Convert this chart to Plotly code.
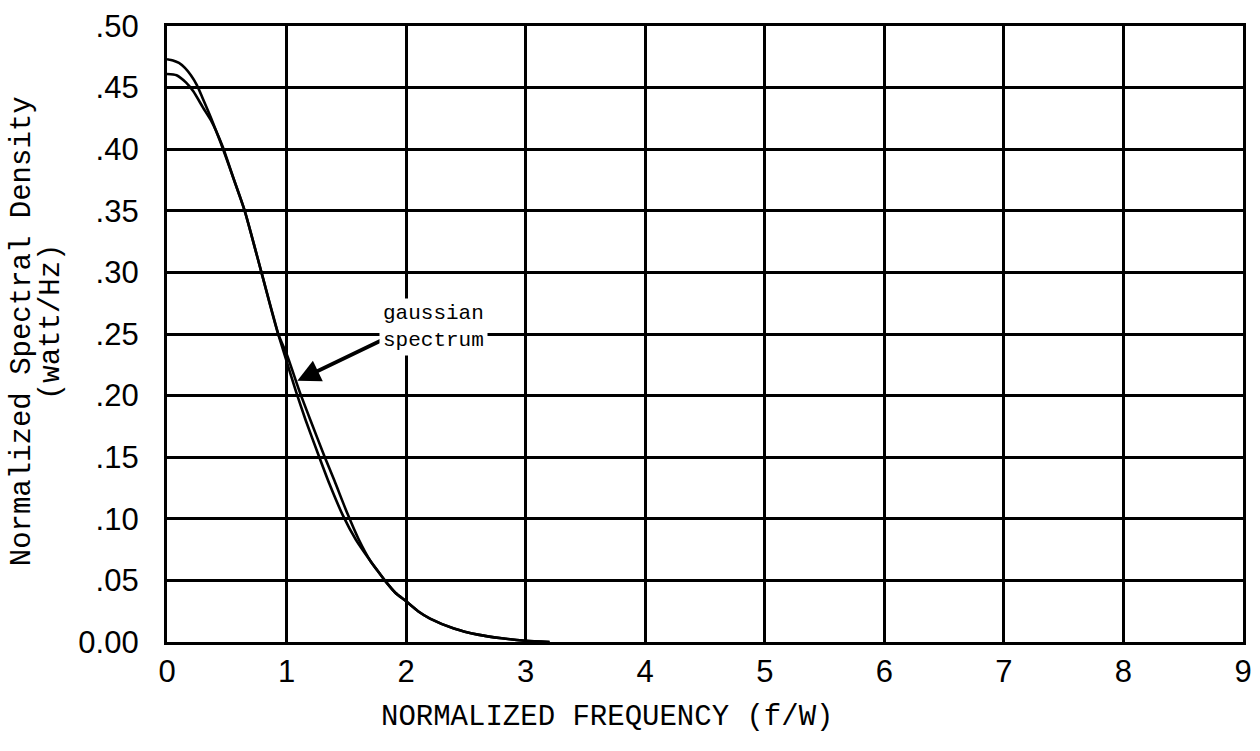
import plotly.graph_objects as go

# Normalized frequency (f/W) and spectral density (watt/Hz) for the two traced spectra
freq_a = [0.00, 0.05, 0.10, 0.15, 0.20, 0.25, 0.30, 0.37, 0.45, 0.55, 0.65, 0.79,
          0.93, 1.00, 1.08, 1.16, 1.27, 1.36, 1.47, 1.58, 1.70, 1.76, 1.83, 1.91,
          2.00, 2.10, 2.20, 2.40, 2.60, 2.80, 3.00, 3.20]
dens_a = [0.473, 0.472, 0.470, 0.466, 0.460, 0.452, 0.441, 0.425, 0.405, 0.378, 0.350, 0.300,
          0.250, 0.228, 0.203, 0.180, 0.151, 0.128, 0.103, 0.083, 0.066, 0.058, 0.049, 0.040,
          0.033, 0.025, 0.019, 0.011, 0.006, 0.003, 0.001, 0.000]

freq_b = [0.00, 0.08, 0.16, 0.22, 0.30, 0.37, 0.41, 0.47, 0.55, 0.65, 0.79, 0.93,
          1.00, 1.11, 1.20, 1.32, 1.40, 1.51, 1.60, 1.70, 1.76, 1.83, 1.91,
          2.00, 2.10, 2.20, 2.40, 2.60, 2.80, 3.00, 3.20]
dens_b = [0.461, 0.460, 0.454, 0.447, 0.434, 0.423, 0.415, 0.401, 0.378, 0.350, 0.300, 0.250,
          0.234, 0.203, 0.180, 0.150, 0.131, 0.104, 0.084, 0.066, 0.058, 0.049, 0.040,
          0.033, 0.025, 0.019, 0.011, 0.006, 0.003, 0.001, 0.000]

x_ticks = [0, 1, 2, 3, 4, 5, 6, 7, 8, 9]
y_ticks = [0.00, 0.05, 0.10, 0.15, 0.20, 0.25, 0.30, 0.35, 0.40, 0.45, 0.50]
y_tick_text = ["0.00", ".05", ".10", ".15", ".20", ".25", ".30", ".35", ".40", ".45", ".50"]

MONO = "Liberation Mono, Courier New, monospace"
SANS = "Liberation Sans, Arial, Helvetica, sans-serif"
INK = "#000000"

fig = go.Figure()
for fx, fy in ((freq_a, dens_a), (freq_b, dens_b)):
    fig.add_trace(go.Scatter(
        x=fx, y=fy, mode="lines",
        line=dict(color=INK, width=2.6, shape="spline", smoothing=0.6),
        hoverinfo="skip", showlegend=False,
    ))

axis_common = dict(
    showgrid=True, gridcolor=INK, gridwidth=2.6,
    showline=True, linecolor=INK, linewidth=3.2, mirror=True,
    zeroline=False, ticks="", tickfont=dict(family=SANS, size=31, color=INK),
)

fig.update_xaxes(range=[0, 9], tickvals=x_ticks, ticktext=[str(t) for t in x_ticks],
                 ticklabelstandoff=0, **axis_common)
fig.update_yaxes(range=[0, 0.5], tickvals=y_ticks, ticktext=y_tick_text,
                 ticklabelstandoff=19, **axis_common)

# Axis titles placed as annotations so both lines of the y title sit where wanted
fig.add_annotation(text="NORMALIZED FREQUENCY (f/W)", xref="paper", yref="paper",
                   x=0.4088, y=-0.123, showarrow=False, xanchor="center", yanchor="middle",
                   font=dict(family=MONO, size=29, color=INK))
fig.add_annotation(text="Normalized Spectral Density", xref="paper", yref="paper",
                   x=-0.1335, y=0.505, textangle=-90, showarrow=False,
                   xanchor="center", yanchor="middle",
                   font=dict(family=MONO, size=29, color=INK))
fig.add_annotation(text="(watt/Hz)", xref="paper", yref="paper",
                   x=-0.1074, y=0.52, textangle=-90, showarrow=False,
                   xanchor="center", yanchor="middle",
                   font=dict(family=MONO, size=29, color=INK))

# Callout for the gaussian curve: arrow plus boxed label
fig.add_annotation(x=1.09, y=0.212, ax=1.86, ay=0.248, xref="x", yref="y",
                   axref="x", ayref="y", text="", showarrow=True,
                   arrowhead=2, arrowsize=1.2, arrowwidth=3.8, arrowcolor=INK)
fig.add_annotation(x=2.23, y=0.256, xref="x", yref="y",
                   text="gaussian<br>spectrum", showarrow=False,
                   xanchor="center", yanchor="middle", bgcolor="#ffffff", borderpad=3,
                   font=dict(family=MONO, size=21, color=INK))

fig.update_layout(
    width=1260, height=751,
    margin=dict(l=166.5, r=8.5, t=24.5, b=109),
    paper_bgcolor="#ffffff", plot_bgcolor="#ffffff",
)

fig.write_html("out.html")
